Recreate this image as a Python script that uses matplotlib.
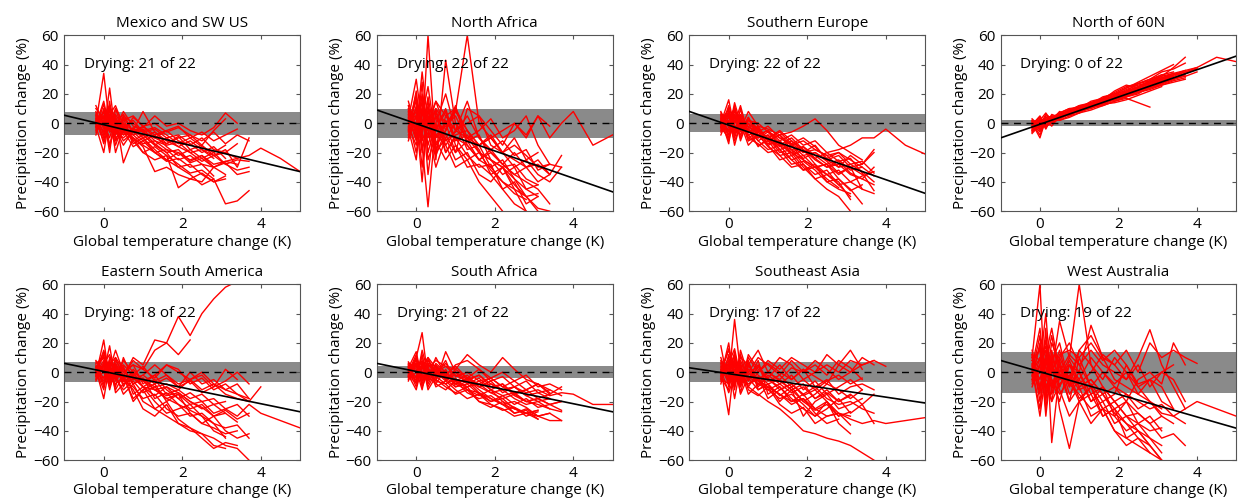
import numpy as np
import matplotlib.pyplot as plt

plt.rcParams['font.family'] = ['Open Sans', 'DejaVu Sans']

# shared temperature grid (K) for the model curves
temp_grid = [-0.2, 0.0, 0.15, 0.3, 0.5, 0.75, 1.0, 1.3, 1.6, 1.9, 2.2, 2.5, 2.8, 3.1, 3.4, 3.7, 4.0, 4.5, 5.0]

regions = ["Mexico and SW US", "North Africa", "Southern Europe", "North of 60N",
           "Eastern South America", "South Africa", "Southeast Asia", "West Australia"]
drying = [21, 22, 22, 0, 18, 21, 17, 19]
noise_band = [8, 10, 6, 2, 7, 4, 7, 14]          # +/- natural variability (%)
fit_slope = [-6.4, -9.3, -9.3, 9.3, -5.5, -5.5, -4.0, -7.7]
fit_icept = [-1.0, -0.3, -1.3, -0.7, 0.5, 0.5, -1.0, 0.3]

mexico = [
    [5, -3, 12, -8, 4, -6, -2, -10, -14, -9, -18, -15, -22, -20, -24, -22, -17, -24, -33],
    [-2, 8, -5, 2, -4, -12, -8, -15, -20, -30, -35, -42, -38, -55, -53, -46],
    [0, 34, -2, 10, 0, -5, -3, 5, -2, 0, -5, -8, -3, 7, 0],
    [3, -10, 15, -12, -6, -10, -15, -20, -18, -25, -22, -28, -30, -27, -35, -33],
    [-5, 5, -15, 0, -8, -4, -10, -20, -25, -30, -28, -35, -40, -36],
    [8, -4, 6, -20, -3, 2, -6, -10, -5, -12, -15, -10, -18, -20, -14],
    [-8, 10, -3, 5, -27, -10, -16, -33, -30, -35, -38, -34, -40, -38],
    [2, -6, 24, -8, 5, 0, -6, -4, -10, -8, -14, -20, -16, -24],
    [12, 0, -10, 4, -5, -8, -14, -12, -18, -20, -25, -22, -30, -26, -28],
    [-3, 13, -6, -2, -12, -6, -8, -15, -10, -16, -20, -18, -24],
    [4, -14, 2, -6, 3, -12, -20, -25, -22, -44, -38, -40, -30, -35],
    [0, 5, -20, 10, -6, 4, -2, -8, -5, -2, -10, -6, -12, -8, -4],
    [6, -8, 3, -15, 0, -14, -10, -18, -25, -20, -27, -24, -30],
    [-6, 2, 8, -4, -15, -5, 8, -6, -12, -16, -12, -18, -22, -28, -25, -26],
    [1, -12, 6, 12, -2, -8, -4, -12, -15, -13, -20, -26, -22, -18, -30, -10],
    [10, 3, -6, -3, 8, -2, -5, -3, -8, -14, -10, -16, -20, -15],
    [-2, -20, 5, -10, -5, -16, -12, -20, -26, -24, -30, -28, -36],
    [5, 0, 12, 2, -8, -3, -10, -6, -14, -10, -8, -15, -5, 3],
    [-4, 8, -16, 0, 6, -6, -12, -8, -16, -22, -18, -24, -20, -28, -32, -30],
    [3, -6, 0, -5, -10, -4, -6, -14, -20, -18, -26, -22, -28, -26, -24],
    [-1, 15, -4, 6, -3, -10, -20, -16, -22, -28, -34, -32, -38],
    [7, -3, 10, -12, 2, 5, -2, 0, -6, -3, -8, -12, -6, -14, -8, -12],
]

north_africa = [
    [0, 15, -10, 60, -20, 5, 10, -5, -15, -10, -5, 0, -8, 5, -10, 0, 8, -15, -8],
    [5, -10, 20, -5, 10, 0, 8, 60, 0, -10, -20, -25, -30, -28, -35],
    [-5, 22, -15, -57, 0, -20, -10, -15, -25, -30, -40, -45, -50, -60],
    [8, -5, 35, 0, 15, 5, -5, -10, -15, -8, -20, -30, -25, -35, -40, -30],
    [0, 10, -20, 5, -25, 43, 0, -10, -20, -25, -30, -38, -50, -58, -60],
    [12, -8, 5, 25, -10, 0, -20, 10, 5, -15, -20, -10, -25, -20],
    [-8, 5, -40, 10, -15, -5, 8, -5, -20, -25, -35, -30, -45, -50],
    [3, 30, 0, -10, 5, -15, -5, 15, -10, -20, -28, -35, -40, -45, -55],
    [-2, -15, 10, -5, -30, -10, -25, -20, -35, -40, -30, -45, -60],
    [6, 0, 18, -20, 0, 20, -5, 0, 5, -5, -15, 0, -10, 5, -2],
    [-10, 12, -5, 8, -8, -15, -30, -25, -40, -50, -60],
    [2, -20, 8, -2, 15, -5, 10, -10, -5, 3, -10, -5, 5, -15, -28],
    [10, 3, -8, 18, -12, -25, -15, -30, -28, -35, -45, -40, -55, -50],
    [-4, -25, 12, -15, 5, -8, -20, -12, -25, -20, -28, -35, -30, -40, -35],
    [0, 8, -30, 5, -20, -10, 0, -18, -15, -30, -25, -38, -45, -42],
    [15, -5, 2, -8, 10, -20, -8, -5, -15, -10, -20, -15, -22, -30, -28, -30],
    [-6, 18, -12, 0, -5, 8, -15, -25, -20, -32, -40, -48, -52],
    [4, -12, 28, -25, -8, -2, 5, -12, -8, -25, -30, -28, -38, -42],
    [-12, 6, -5, 12, -18, 2, -10, -22, -30, -28, -45, -55, -60],
    [7, -3, 15, -35, 8, -12, -6, 5, -10, -18, -12, -22, -18, -32, -28],
    [-3, 20, -18, 4, -4, 10, -12, -8, -18, -35, -30, -42, -50, -48],
    [9, -8, 0, 15, -22, -5, 12, -15, -25, -18, -28, -20, -30, -25, -35, -22],
]

southern_europe = [
    [3, -5, 10, -3, -2, -8, -5, -12, -8, -15, -12, -20, -18, -15, -10, -10, -4, -15, -21],
    [-2, 8, -6, 0, -10, -6, -12, -15, -20, -25, -30, -35, -32, -40, -45, -48],
    [5, -10, 2, -5, 4, -8, -15, -12, -22, -18, -28, -35, -40, -52],
    [0, 16, -4, 6, -3, -5, -10, -18, -15, -25, -30, -28, -38, -45, -55],
    [-5, 2, -12, -2, -8, -15, -12, -22, -30, -28, -38, -45, -50, -60],
    [8, -3, 5, -10, 2, 0, -6, -10, -14, -20, -18, -22, -30, -28, -33, -40],
    [-3, 6, -15, 0, -4, -10, -8, -16, -12, -18, -25, -30, -28, -35, -38, -42],
    [2, -8, 8, 4, -6, -3, -12, -8, -15, -22, -20, -25, -22, -30, -28, -18],
    [6, 0, -8, 10, -12, -8, -5, -14, -18, -16, -24, -20, -26, -24, -34, -46],
    [-4, 12, -2, -8, 0, -12, -18, -15, -25, -32, -28, -40, -45, -48],
    [1, -12, 4, -4, 8, -2, -4, -8, -6, -2, 3, -5, -15, -20, -25],
    [-6, 4, 10, -6, -4, -16, -10, -20, -18, -28, -35, -32, -42, -40, -36, -33],
    [4, -6, 0, 12, -8, -6, -14, -12, -20, -16, -22, -28, -25, -32, -30],
    [0, 10, -10, 2, -5, -12, -8, -18, -25, -22, -30, -28, -35, -30, -45],
    [7, -2, 6, -12, 3, -4, -10, -5, -12, -20, -15, -25, -30, -22, -28, -20],
    [-8, 5, -5, 0, -15, -8, -16, -22, -20, -30, -38, -35, -42, -50],
    [3, -14, 12, -5, 0, -6, -2, -10, -15, -12, -18, -22, -20, -25, -30, -36],
    [-2, 7, -8, 5, -10, -14, -20, -18, -28, -26, -32, -40, -38, -46, -42],
    [5, 0, -3, -8, 4, -10, -6, -15, -10, -18, -24, -30, -26, -34, -38, -30],
    [-1, -6, 14, 0, -6, -2, -12, -8, -18, -24, -20, -26, -34, -30, -35],
    [2, 9, -7, 3, -12, -8, -15, -25, -22, -32, -30, -38, -44],
    [-3, -10, 6, -2, 2, -5, -10, -6, -14, -10, -16, -24, -20, -28, -26, -34],
]

north_60n = [
    [-3, 1, 0, 3, 5, 6, 10, 11, 14, 18, 20, 23, 26, 30, 33, 35, 38, 45, 42],
    [-5, -2, 2, 1, 3, 8, 7, 12, 13, 17, 22, 24, 28, 32, 38, 45],
    [0, -10, 3, 2, 6, 7, 9, 13, 15, 16, 19, 21, 24, 27, 30, 34],
    [-2, 3, -4, 4, 5, 8, 11, 10, 16, 19, 21, 24, 27, 31, 33, 36, 38],
    [2, -4, 1, 5, 3, 7, 9, 12, 14, 17, 18, 22, 25, 28, 30],
    [-6, 0, 4, 2, 6, 9, 8, 12, 17, 20, 24, 27, 30, 35, 37, 41],
    [-1, 5, -2, 0, 4, 6, 10, 14, 15, 18, 22, 25, 29, 32, 34, 32],
    [-4, 2, 0, 3, 2, 5, 7, 11, 12, 15, 17, 14, 11],
    [1, -3, 5, 4, 7, 10, 9, 13, 16, 19, 23, 26, 28, 30, 33],
    [-3, 0, 2, -2, 5, 8, 11, 12, 14, 17, 19, 22, 24, 26, 29, 31],
    [-5, 3, -1, 6, 4, 7, 10, 13, 18, 20, 22, 27, 30, 33, 35],
    [0, -6, 2, 3, 5, 6, 8, 11, 13, 16, 20, 23, 26, 29, 32, 35, 37],
    [-2, 2, 7, 1, 3, 8, 12, 14, 16, 18, 21, 25, 28, 31],
    [-7, -1, 0, 4, 6, 9, 10, 12, 15, 18, 19, 21, 24, 27, 30, 33],
    [3, -2, 1, 2, 8, 5, 9, 14, 17, 20, 24, 28, 32, 36, 40],
    [-1, 4, -3, 5, 4, 7, 8, 10, 13, 14, 16, 19, 22, 25],
    [-4, 1, 3, 0, 3, 6, 9, 12, 15, 17, 21, 22, 26, 29, 31, 34, 37],
    [2, -5, 4, 3, 6, 8, 10, 15, 17, 21, 25, 27, 29, 33],
    [-3, 2, -2, 1, 5, 9, 12, 13, 15, 19, 20, 24, 27, 30, 32],
    [0, -8, 2, 5, 2, 4, 7, 9, 12, 15, 18, 21, 23, 26, 28, 30],
    [-6, 3, 1, 2, 7, 10, 11, 14, 16, 22, 26, 24, 28, 31, 34, 36],
    [1, -1, 6, 3, 4, 6, 10, 11, 14, 16, 18, 20, 25, 27, 30, 32, 35],
]

east_south_america = [
    [3, 10, -5, 8, 0, 5, 2, 15, 20, 38, 25, 40, 50, 58, 62],
    [-2, 22, -6, 4, -3, 10, 5, 22, 20, 12, 22],
    [0, 5, -8, 2, -6, -3, -10, -12, -18, -15, -22, -20, -28, -25, -30, -22, -28, -33, -38],
    [4, -10, 8, -2, -15, -8, -20, -25, -30, -35, -40, -42, -45, -50, -52, -60],
    [-3, 15, 0, -5, 8, 0, -5, -10, -8, -12, -5, 0, -8, -12, -15, -20, -10],
    [2, -18, 5, 10, -4, -12, -25, -30, -22, -35, -38, -45, -52, -48, -50],
    [8, 0, -4, 6, -10, 2, -6, -2, 5, 0, -5, -2, -10, 2, -5],
    [-5, 6, 12, -3, 3, -8, -4, -12, -10, -18, -25, -22, -30, -28, -34],
    [1, -6, 3, -12, -2, -20, -12, -8, -20, -15, -28, -35, -30, -40, -45, -42],
    [6, 10, -3, 4, -8, -5, -2, 5, -2, -8, -5, -12, -8, -15, -18, -20],
    [-4, 0, 18, -6, 4, -15, -10, -20, -28, -25, -22, -30, -35, -45],
    [0, 12, -8, 5, -5, 0, -10, -5, -15, -12, -18, -15, -22, -20],
    [3, -4, 6, -10, 10, -5, -2, -8, -4, -10, 0, -8, -5, -12, -8, -18],
    [-1, 8, -12, 3, -6, -10, -18, -15, -25, -30, -28, -35, -38, -42, -40],
    [5, -8, 2, 15, 0, 5, -8, -2, -12, -18, -14, -20, -18, -25, -22, -30],
    [-6, 4, -2, -8, -3, -18, -12, -25, -20, -32, -38, -42, -50, -52],
    [2, 14, 0, 6, -2, 8, 2, -4, 5, 2, -8, -4, -12, -8, -15, -18],
    [-2, -4, 8, -14, -8, -4, -10, -16, -10, -14, -20, -25, -22, -28],
    [7, 2, -10, 0, 5, -2, -6, -12, -16, -14, -20, -24, -30, -26, -32, -28],
    [-3, 6, 4, -4, -12, -6, -14, -10, -18, -22, -30, -28, -35, -38, -36, -45],
    [1, -12, 10, 2, -4, -2, 4, -6, -2, -10, -6, -14, -10, -6, 0, -8],
    [4, 0, -6, 10, 2, -8, -4, -18, -14, -22, -26, -30, -40, -44],
]

south_africa = [
    [2, 5, -3, 8, 0, -4, -2, -6, -10, -8, -12, -10, -14, -12, -16, -14, -15, -22, -22],
    [-3, 10, 27, -5, 4, -2, -6, -10, -8, -14, -18, -15, -20, -22, -25, -27],
    [5, -8, 2, 10, -4, 0, -8, -5, -12, -18, -22, -25, -28, -30, -33, -33],
    [0, 12, -6, 3, 8, 4, 2, 12, 5, 0, 10, 2, -5, -8, -12],
    [-5, 0, 8, -12, -3, -8, -15, -12, -20, -22, -25, -30, -28, -32],
    [3, -6, 15, 0, -6, 14, 0, -5, -2, -10, -8, -15, -12, -18, -15, -10],
    [6, 4, -8, 5, 2, -5, -10, -8, -15, -20, -18, -25, -28, -26],
    [-2, -12, 5, -3, 10, -2, 4, -4, 2, -6, -3, -10, -6, -14, -12, -16],
    [1, 8, -4, 2, -8, -12, -6, -14, -18, -16, -22, -28, -25, -30, -28],
    [4, -4, 11, -6, 0, 6, -3, 0, -6, -4, -10, -6, -12, -8, -14],
    [-4, 6, 0, 4, -10, -6, -12, -18, -15, -22, -26, -24, -30, -27],
    [0, -3, 12, -8, 2, -4, 0, -8, -4, -12, -8, -16, -20, -18, -22, -26],
    [7, 0, 3, 6, -2, 8, -8, -4, -10, -6, -14, -10, -16, -20, -18],
    [-6, 9, -10, 0, -5, -10, -14, -10, -20, -24, -20, -28, -26, -32],
    [2, -10, 4, 10, 3, -2, 5, 8, 2, -4, 0, -6, -2, -10, -8, -12],
    [-1, 4, -2, -5, 6, 0, -6, -2, -10, -14, -12, -18, -22, -20, -25],
    [3, 14, -6, 2, -6, -8, -4, -12, -14, -20, -16, -22, -18, -24, -22, -20],
    [-3, -7, 7, -10, 0, 4, -2, -6, -2, -8, -12, -10, -16, -14, -18],
    [5, 2, -12, 6, 4, -4, -8, -12, -16, -12, -20, -24, -28, -26],
    [0, 10, 0, -3, -8, 2, -10, -6, -14, -18, -22, -20, -24, -30, -28, -33],
    [-2, -5, 5, 8, 0, -6, 2, -4, -8, -4, -10, -14, -12, -8, -15],
    [4, 6, -4, -2, 5, -3, -6, -10, -6, -12, -16, -14, -20, -18, -22, -20],
]

southeast_asia = [
    [0, 15, 5, -3, -8, -5, -10, -15, -20, -18, -25, -30, -28, -32, -35, -33, -35, -33, -31],
    [5, -5, 36, 0, -10, -15, -20, -25, -32, -40, -42, -45, -47, -50, -55, -60],
    [-3, 20, -8, 10, 5, 15, 0, 10, 5, -5, 0, 5, 0, 8, 5, 8, 4],
    [18, -10, 2, -5, 0, -8, -4, -12, -8, -15, -10, -18, -22, -20, -25, -28],
    [2, -29, 8, -10, 4, -2, -8, -5, -12, -20, -15, -8, -12, -18, -12],
    [-6, 5, -12, 15, -2, 5, -5, -10, -18, -25, -30, -20, -35, -42],
    [8, 0, 12, -8, 10, 0, 8, 2, 10, 5, 0, 12, 5, 15, 2],
    [-2, 10, -4, 2, -15, -8, -12, -18, -15, -22, -30, -25, -18, -28, -22, -35],
    [4, -8, 6, -14, 6, -10, -2, -8, -2, -12, -6, -15, -10, -5, -12],
    [0, 6, -18, 4, -6, 8, -15, -10, -20, -15, -25, -20, -30],
    [-4, -12, 10, -2, 2, -5, 0, -5, 3, 0, 8, 2, -5, 0, 5, 8],
    [6, 2, -6, 8, -4, -12, -8, -20, -12, -30, -20, -15, -25, -22, -18],
    [-8, 12, 0, -10, 12, 2, -4, 5, -5, 2, -10, -5, -15, -10, -8, -12],
    [3, -4, 14, -6, -8, -3, -18, -12, -8, -16, -12, -20, -28, -30],
    [-1, 8, -10, 5, 0, 10, 5, -2, 8, 0, 5, -2, 8, 3, -5],
    [10, -6, 4, -2, 6, -6, -10, -15, -22, -18, -28, -35, -32],
    [-5, 3, 8, -15, -3, -8, 0, -6, -12, -8, -18, -12, -20, -15, -22, -15],
    [2, -14, -2, 12, -6, 4, -6, -2, -10, -5, -12, -6, -2, -8, -4],
    [-3, 6, 16, -4, 8, -12, -8, -16, -10, -20, -26, -22, -30, -27],
    [7, -2, -8, 3, -10, 0, 6, 0, -5, 2, -3, -8, 5, 0, 10, 5],
    [0, 16, -3, 0, 2, -6, -12, -8, -14, -10, -18, -14, -20, -16],
    [-4, -8, 5, 6, -12, -16, -10, -22, -28, -24, -35, -30, -28, -36],
]

west_australia = [
    [10, 60, -20, 15, -10, 5, 0, -15, -10, -20, -15, -25, -20, -28, -30, -25, -20, -25, -30],
    [-5, 20, -10, 0, 35, 10, 60, 5, -10, -20, -30, -40, -50, -60],
    [5, -15, 30, -48, 0, -20, -10, -30, -25, -40, -45, -50, -55, -60],
    [0, 10, -5, 20, 5, -10, 15, 25, 10, 5, 15, 0, 20, 10, 15, 10, 6],
    [12, -20, 8, -5, -15, -5, -20, -10, -25, -30, -20, -35, -40, -38],
    [-10, 5, 15, -12, 10, 20, 5, 15, 5, 0, -5, 10, 29, 5, -10, -25],
    [3, -30, 0, 10, -25, -52, -20, -15, -30, -25, -35, -40, -45, -50],
    [8, 15, -25, 5, -5, 10, 0, 32, 10, -5, -10, -15, -20, -25],
    [-3, 0, 22, -10, 8, -15, -5, -20, -10, -30, -40, -35, -45, -55],
    [15, -10, 5, 25, -5, 0, -10, -5, -15, -10, -20, -5, 0, -8, 20, 5],
    [0, 25, -15, 0, 15, -10, 0, -20, -15, -28, -35, -45, -50, -60],
    [-8, 10, 5, -20, -8, -2, -12, -8, -20, -15, 5, -10, -20, -30, -35],
    [6, -5, 12, 30, 0, 12, 5, -10, 0, -8, 0, -15, -5, -10, -25],
    [-2, 18, -30, 8, 20, -8, -15, -25, -20, -35, -30, -28, -35, -30],
    [10, -12, 0, -5, -20, 5, -5, 10, 0, -10, -15, -20, -25, -22, -30, -35],
    [-5, 5, 40, -15, 5, -20, 10, -10, -30, -25, -45, -40, -50],
    [2, -25, 10, 5, -10, 8, -8, 0, 12, 5, -5, 5, -10, 0, 5],
    [12, 8, -8, -20, 10, -5, 15, 5, -5, 10, 0, -10, -5, -20, -25],
    [-6, 0, 18, 2, -12, -30, -20, -35, -25, -40, -50, -45, -55],
    [4, 30, -5, -10, 0, 5, -10, -5, -15, -25, -20, -28, -35, -45, -42, -50],
    [-2, -10, 5, 12, -5, -2, -18, -10, -25, -20, -30, -35, -30, -40],
    [8, 3, -12, 0, 12, 15, 10, 20, 8, 15, 5, -8, -5, 0, -5, -20],
]

all_lines = [mexico, north_africa, southern_europe, north_60n,
             east_south_america, south_africa, southeast_asia, west_australia]

fig = plt.figure(figsize=(12.4, 5.04), dpi=100)
lefts = [0.052, 0.304, 0.556, 0.807]
bottoms = [0.581, 0.087]
w, h = 0.190, 0.349

for i in range(8):
    ax = fig.add_axes([lefts[i % 4], bottoms[i // 4], w, h])
    ax.axhspan(-noise_band[i], noise_band[i], color='#8a8a8a', lw=0, zorder=1)
    for ys in all_lines[i]:
        ax.plot(temp_grid[:len(ys)], ys, color='#ff0000', lw=1.0, zorder=2)
    ax.axhline(0, color='k', ls=(0, (5, 4)), lw=1.0, zorder=3)
    xx = np.array([-1, 5])
    ax.plot(xx, fit_slope[i] * xx + fit_icept[i], color='k', lw=1.2, zorder=4)
    ax.text(-0.5, 40, "Drying: %d of 22" % drying[i], fontsize=11, va='center', zorder=5)

    ax.set_xlim(-1, 5)
    ax.set_ylim(-60, 60)
    ax.set_xticks([0, 2, 4])
    ax.set_yticks(range(-60, 61, 20))
    ax.tick_params(direction='in', top=True, right=True, labelsize=11, length=3,
                   color='#555555', pad=4)
    for s in ax.spines.values():
        s.set_color('#555555')
    ax.set_title(regions[i], fontsize=11, pad=6)
    ax.set_xlabel("Global temperature change (K)", fontsize=11, labelpad=2)
    ax.set_ylabel("Precipitation change (%)", fontsize=11, labelpad=1)

fig.savefig("out.png", dpi=100)
